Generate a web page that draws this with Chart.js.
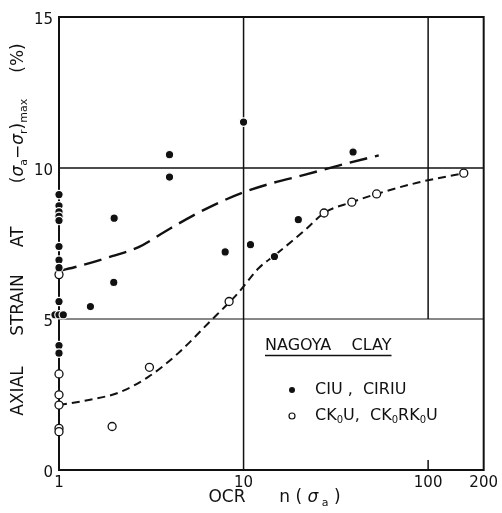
<!DOCTYPE html>
<html>
<head>
<meta charset="utf-8">
<script src="https://cdn.jsdelivr.net/npm/chart.js@4/dist/chart.umd.min.js"></script>
<style>
  html, body { margin: 0; padding: 0; background: #fff; }
  #wrap { width: 502px; height: 513px; }
</style>
</head>
<body>
<div id="wrap"><canvas id="strainChart" width="502" height="513"></canvas></div>
<script>
// Nagoya clay - axial strain at peak deviator stress against OCR

// CIU, CIRIU tests (filled dots)
const ciuOcr = [1, 1, 1, 1, 1, 1, 1, 1, 1, 0.951, 1, 1.055, 1, 1,
                1.48, 1.98, 1.99, 3.97, 3.97, 7.95, 10, 10.9, 14.7, 19.8, 39.2];
const ciuStrain = [9.12, 8.75, 8.55, 8.40, 8.26, 7.40, 6.95, 6.70, 5.58, 5.14, 5.14, 5.14, 4.12, 3.87,
                   5.41, 6.21, 8.34, 10.44, 9.70, 7.22, 11.52, 7.46, 7.07, 8.29, 10.53];

// CK0U, CK0RK0U tests (open circles)
const ckoOcr = [1, 1, 1, 1, 1, 1, 1.94, 3.09, 8.35, 27.3, 38.6, 52.6, 156];
const ckoStrain = [6.47, 3.18, 2.49, 2.15, 1.38, 1.27, 1.44, 3.40, 5.58, 8.51, 8.87, 9.14, 9.83];

// trend curves
const ciuCurveOcr = [1, 1.28, 1.94, 2.70, 3.76, 5.23, 7.28, 9.73, 14.3, 21.6, 32.7, 54];
const ciuCurveStrain = [6.59, 6.75, 7.08, 7.38, 7.90, 8.40, 8.84, 9.17, 9.50, 9.78, 10.08, 10.42];
const ckoCurveOcr = [1, 1.45, 2.10, 3.06, 4.43, 6.44, 9.34, 12.1, 14.9, 21.6, 27.3, 38.6, 52.6, 88.3, 156];
const ckoCurveStrain = [2.15, 2.32, 2.56, 3.09, 3.87, 4.86, 5.86, 6.69, 7.13, 7.95, 8.51, 8.87, 9.14, 9.52, 9.83];

const xTicks = [1, 10, 100, 200];
const yTicks = [0, 5, 10, 15];

const legendTitle = 'NAGOYA    CLAY';
const ciuLabel = [['CIU ,  CIRIU', '']];
const ckoLabel = [['CK', ''], ['0', 's'], ['U,  CK', ''], ['0', 's'], ['RK', ''], ['0', 's'], ['U', '']];

const yTitle = [
  { y: 391, parts: [['AXIAL', '']] },
  { y: 305, parts: [['STRAIN', '']] },
  { y: 237, parts: [['AT', '']] },
  { y: 141, parts: [['(', ''], ['σ', 'i'], ['a', 's'], ['−', ''], ['σ', 'i'], ['r', 's'], [')', ''], ['max', 's']] },
  { y: 58, parts: [['(%)', '']] }
];
const xTitle = [
  { x: 227, parts: [['OCR', '']] },
  { x: 310, parts: [['n ( ', ''], ['σ', 'i'], [' a', 's'], [' )', '']] }
];

const FONT = 'DejaVu Sans';
const INK = '#111';

function toPoints(xs, ys) {
  return xs.map((v, i) => ({ x: v, y: ys[i] }));
}

function partFont(kind, size) {
  if (kind === 's') return Math.round(size * 0.62) + 'px "' + FONT + '"';
  if (kind === 'i') return 'italic ' + size + 'px "' + FONT + '"';
  return size + 'px "' + FONT + '"';
}

function richWidth(ctx, parts, size) {
  let w = 0;
  parts.forEach(p => {
    ctx.font = partFont(p[1], size);
    w += ctx.measureText(p[0]).width;
  });
  return w;
}

// draws text with italic / subscript pieces, baseline-middle at (x, y)
function drawRich(ctx, parts, x, y, size, align) {
  let cx = align === 'center' ? x - richWidth(ctx, parts, size) / 2 : x;
  ctx.textAlign = 'left';
  ctx.textBaseline = 'middle';
  parts.forEach(p => {
    ctx.font = partFont(p[1], size);
    const dy = p[1] === 's' ? size * 0.28 : 0;
    ctx.fillText(p[0], cx, y + dy);
    cx += ctx.measureText(p[0]).width;
  });
}

const framePlugin = {
  id: 'frame',
  beforeDatasetsDraw(chart) {
    const { ctx, chartArea: a, scales: { x, y } } = chart;
    const seg = (x1, y1, x2, y2) => {
      ctx.beginPath();
      ctx.moveTo(x1, y1);
      ctx.lineTo(x2, y2);
      ctx.stroke();
    };
    ctx.save();
    ctx.strokeStyle = INK;
    ctx.lineWidth = 1.5;
    const x10 = x.getPixelForValue(10);
    const x100 = x.getPixelForValue(100);
    const y5 = y.getPixelForValue(5);
    const y10 = y.getPixelForValue(10);
    seg(x10, a.top, x10, a.bottom);
    seg(x100, a.top, x100, y5);
    seg(x100, a.bottom - 10, x100, a.bottom);
    seg(a.left, y10, a.right, y10);
    ctx.lineWidth = 1.2;
    seg(a.left, y5, a.right, y5);
    ctx.lineWidth = 2;
    ctx.strokeRect(a.left, a.top, a.right - a.left, a.bottom - a.top);
    ctx.restore();
  }
};

const textPlugin = {
  id: 'titles',
  afterDraw(chart) {
    const { ctx } = chart;
    ctx.save();
    ctx.fillStyle = INK;

    // vertical axis title
    yTitle.forEach(t => {
      ctx.save();
      ctx.translate(19, t.y);
      ctx.rotate(-Math.PI / 2);
      drawRich(ctx, t.parts, 0, 0, 17, 'center');
      ctx.restore();
    });

    // horizontal axis title
    xTitle.forEach(t => drawRich(ctx, t.parts, t.x, 498, 17, 'center'));

    // legend block
    ctx.font = '16px "' + FONT + '"';
    ctx.textAlign = 'left';
    ctx.textBaseline = 'middle';
    ctx.fillText(legendTitle, 265, 346);
    const tw = ctx.measureText(legendTitle).width;
    ctx.strokeStyle = INK;
    ctx.lineWidth = 1.5;
    ctx.beginPath();
    ctx.moveTo(265, 355.5);
    ctx.lineTo(265 + tw, 355.5);
    ctx.stroke();

    ctx.beginPath();
    ctx.arc(292, 390, 3, 0, Math.PI * 2);
    ctx.fill();
    drawRich(ctx, ciuLabel, 315, 390, 16, 'left');

    ctx.beginPath();
    ctx.arc(292, 416, 3, 0, Math.PI * 2);
    ctx.lineWidth = 1.2;
    ctx.stroke();
    drawRich(ctx, ckoLabel, 315, 416, 16, 'left');
    ctx.restore();
  }
};

const tickFont = { family: FONT, size: 15 };

new Chart(document.getElementById('strainChart'), {
  type: 'scatter',
  data: {
    datasets: [
      {
        label: 'CIU, CIRIU',
        data: toPoints(ciuOcr, ciuStrain),
        pointRadius: 4.2,
        pointBackgroundColor: INK,
        pointBorderColor: '#fff',
        pointBorderWidth: 1.2,
        clip: false
      },
      {
        label: 'CK0U, CK0RK0U',
        data: toPoints(ckoOcr, ckoStrain),
        pointRadius: 4,
        pointBackgroundColor: '#fff',
        pointBorderColor: INK,
        pointBorderWidth: 1.3,
        clip: false
      },
      {
        label: 'CIU trend',
        data: toPoints(ciuCurveOcr, ciuCurveStrain),
        showLine: true,
        pointRadius: 0,
        borderColor: INK,
        borderWidth: 2.4,
        borderDash: [18, 8],
        cubicInterpolationMode: 'monotone',
        clip: false
      },
      {
        label: 'CK0U trend',
        data: toPoints(ckoCurveOcr, ckoCurveStrain),
        showLine: true,
        pointRadius: 0,
        borderColor: INK,
        borderWidth: 2,
        borderDash: [8, 5],
        cubicInterpolationMode: 'monotone',
        clip: false
      }
    ]
  },
  options: {
    responsive: false,
    animation: false,
    layout: { padding: { top: 17, right: 17, left: 0, bottom: 0 } },
    plugins: {
      legend: { display: false },
      tooltip: { enabled: false }
    },
    scales: {
      x: {
        type: 'logarithmic',
        min: 1,
        max: 200,
        afterBuildTicks: s => { s.ticks = xTicks.map(v => ({ value: v })); },
        afterFit: s => { s.height = 43; },
        grid: { display: false, drawTicks: false },
        border: { display: false },
        ticks: {
          color: INK,
          font: tickFont,
          padding: 4,
          maxRotation: 0,
          autoSkip: false,
          callback: v => String(v)
        }
      },
      y: {
        min: 0,
        max: 15,
        afterBuildTicks: s => { s.ticks = yTicks.map(v => ({ value: v })); },
        afterFit: s => { s.width = 59; },
        grid: { display: false, drawTicks: false },
        border: { display: false },
        ticks: {
          color: INK,
          font: tickFont,
          padding: 6,
          labelOffset: 3,
          callback: v => String(v)
        }
      }
    }
  },
  plugins: [framePlugin, textPlugin]
});
</script>
</body>
</html>
